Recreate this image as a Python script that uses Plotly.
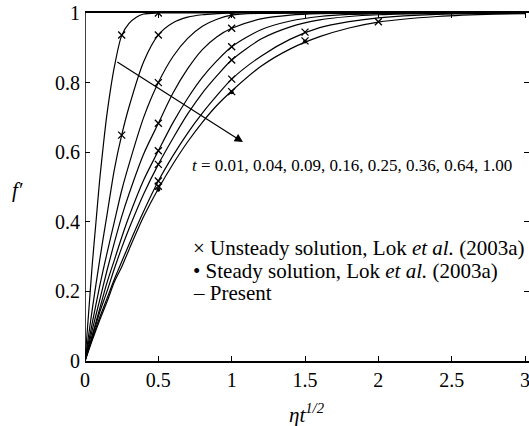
import plotly.graph_objects as go

# ---- data ----
t_labels = ["0.01", "0.04", "0.09", "0.16", "0.25", "0.36", "0.64", "1.00"]

x_c1 = [0, 0.025, 0.05, 0.075, 0.1, 0.125, 0.15, 0.2, 0.25, 0.3, 0.35, 0.4, 0.5, 1.0, 2.0, 3.0]
y_c1 = [0, 0.14, 0.28, 0.40, 0.52, 0.62, 0.71, 0.845, 0.935, 0.97, 0.988, 0.997, 1.0, 1.0, 1.0, 1.0]

x_c2 = [0, 0.05, 0.1, 0.15, 0.2, 0.25, 0.3, 0.4, 0.5, 0.6, 0.7, 0.8, 0.9, 1.0, 2.0, 3.0]
y_c2 = [0, 0.15, 0.29, 0.42, 0.55, 0.649, 0.73, 0.86, 0.937, 0.972, 0.988, 0.995, 0.998, 1.0, 1.0, 1.0]

x_c3 = [0, 0.05, 0.1, 0.15, 0.2, 0.25, 0.3, 0.4, 0.5, 0.6, 0.7, 0.8, 0.9, 1.0, 1.2, 1.4, 2.0, 3.0]
y_c3 = [0, 0.11, 0.215, 0.31, 0.40, 0.49, 0.565, 0.70, 0.80, 0.875, 0.927, 0.962, 0.982, 0.994, 0.999, 1.0, 1.0, 1.0]

x_c4 = [0, 0.05, 0.1, 0.15, 0.2, 0.25, 0.3, 0.4, 0.5, 0.6, 0.7, 0.8, 0.9, 1.0, 1.2, 1.4, 1.6, 2.0, 3.0]
y_c4 = [0, 0.09, 0.175, 0.26, 0.34, 0.415, 0.48, 0.595, 0.683, 0.77, 0.84, 0.895, 0.932, 0.956, 0.983, 0.994, 0.998, 1.0, 1.0]

x_c5 = [0, 0.05, 0.1, 0.15, 0.2, 0.25, 0.3, 0.4, 0.5, 0.6, 0.7, 0.8, 0.9, 1.0, 1.2, 1.4, 1.6, 1.8, 2.0, 2.4, 3.0]
y_c5 = [0, 0.075, 0.15, 0.225, 0.29, 0.355, 0.415, 0.52, 0.604, 0.685, 0.755, 0.815, 0.863, 0.903, 0.952, 0.977, 0.99, 0.996, 0.998, 1.0, 1.0]

x_c6 = [0, 0.05, 0.1, 0.15, 0.2, 0.25, 0.3, 0.4, 0.5, 0.6, 0.7, 0.8, 0.9, 1.0, 1.2, 1.4, 1.6, 1.8, 2.0, 2.4, 3.0]
y_c6 = [0, 0.07, 0.14, 0.20, 0.265, 0.325, 0.38, 0.48, 0.565, 0.64, 0.71, 0.77, 0.82, 0.865, 0.925, 0.96, 0.98, 0.99, 0.995, 0.999, 1.0]

x_c7 = [0, 0.05, 0.1, 0.15, 0.2, 0.25, 0.3, 0.4, 0.5, 0.6, 0.7, 0.8, 0.9, 1.0, 1.2, 1.4, 1.6, 1.8, 2.0, 2.4, 2.8, 3.0]
y_c7 = [0, 0.065, 0.125, 0.18, 0.235, 0.285, 0.335, 0.43, 0.517, 0.59, 0.655, 0.712, 0.763, 0.81, 0.876, 0.925, 0.958, 0.975, 0.986, 0.996, 0.999, 1.0]

x_c8 = [0, 0.05, 0.1, 0.15, 0.2, 0.25, 0.3, 0.4, 0.5, 0.6, 0.7, 0.8, 0.9, 1.0, 1.2, 1.4, 1.6, 1.8, 2.0, 2.4, 2.8, 3.0]
y_c8 = [0, 0.06, 0.117, 0.17, 0.227, 0.27, 0.32, 0.415, 0.495, 0.566, 0.63, 0.686, 0.735, 0.776, 0.847, 0.897, 0.932, 0.957, 0.974, 0.99, 0.997, 0.998]

curves_x = [x_c1, x_c2, x_c3, x_c4, x_c5, x_c6, x_c7, x_c8]
curves_y = [y_c1, y_c2, y_c3, y_c4, y_c5, y_c6, y_c7, y_c8]

unsteady_x = [0.25, 0.25, 0.5, 0.5, 0.5, 0.5, 0.5, 0.5, 0.5, 0.5, 1, 1, 1, 1, 1, 1, 1.5, 1.5, 2]
unsteady_y = [0.937, 0.649, 1.0, 0.937, 0.80, 0.683, 0.604, 0.565, 0.517, 0.502,
              0.994, 0.956, 0.903, 0.865, 0.81, 0.774, 0.945, 0.92, 0.975]

steady_x = [0.5, 1.0, 1.5]
steady_y = [0.492, 0.772, 0.918]

x_ticks = [0, 0.5, 1, 1.5, 2, 2.5, 3]
x_tick_text = ["0", "0.5", "1", "1.5", "2", "2.5", "3"]
y_ticks = [0, 0.2, 0.4, 0.6, 0.8, 1]
y_tick_text = ["0", "0.2", "0.4", "0.6", "0.8", "1"]

SERIF = "Liberation Serif, Times New Roman, serif"

fig = go.Figure()
for cx, cy in zip(curves_x, curves_y):
    fig.add_trace(go.Scatter(x=cx, y=cy, mode="lines",
                             line=dict(color="black", width=1.2, shape="spline", smoothing=0.8),
                             showlegend=False, hoverinfo="skip"))

fig.add_trace(go.Scatter(x=unsteady_x, y=unsteady_y, mode="markers",
                         marker=dict(symbol="x-thin", size=7, line=dict(color="black", width=1.3)),
                         showlegend=False))
fig.add_trace(go.Scatter(x=steady_x, y=steady_y, mode="markers",
                         marker=dict(symbol="circle", size=4, color="black"),
                         showlegend=False))

fig.update_layout(
    width=529, height=426,
    margin=dict(l=85, r=0, t=13, b=65),
    paper_bgcolor="white", plot_bgcolor="white",
    font=dict(family=SERIF, color="black", size=20),
    showlegend=False,
    xaxis=dict(range=[0, 3.027], tickvals=x_ticks, ticktext=x_tick_text,
               showgrid=False, zeroline=False, showline=True, linecolor="black",
               linewidth=1.5, mirror="ticks", ticks="inside", ticklen=5,
               tickcolor="black", tickfont=dict(size=20, family=SERIF),
               ticklabeloverflow="allow"),
    yaxis=dict(range=[0, 1], tickvals=y_ticks, ticktext=y_tick_text,
               showgrid=False, zeroline=False, showline=False,
               mirror="ticks", ticks="inside", ticklen=5,
               tickcolor="black", tickfont=dict(size=20, family=SERIF),
               ticklabelstandoff=4),
)

fig.add_shape(type="line", xref="x", yref="paper", x0=0, x1=0, y0=0, y1=1,
              line=dict(color="black", width=1.5))

# arrow
fig.add_annotation(x=1.077, y=0.629, ax=0.21, ay=0.862, xref="x", yref="y",
                   axref="x", ayref="y", showarrow=True, arrowhead=2,
                   arrowsize=1.4, arrowwidth=1.2, arrowcolor="black", text="")

fig.add_annotation(x=0.716, y=0.563, xref="x", yref="y", xanchor="left", yanchor="middle",
                   showarrow=False,
                   text="<i>t</i> = " + ", ".join(t_labels),
                   font=dict(size=17, family=SERIF))

legend_lines = ["\u00d7 Unsteady solution, Lok <i>et al.</i> (2003a)",
                "\u2022 Steady solution, Lok <i>et al.</i> (2003a)",
                "\u2013 Present"]
legend_y = [0.325, 0.26, 0.195]
for txt, ly in zip(legend_lines, legend_y):
    fig.add_annotation(x=0.72, y=ly, xref="x", yref="y", xanchor="left", yanchor="middle",
                       showarrow=False, text=txt, font=dict(size=21, family=SERIF))

# axis titles (paper coordinates, outside the plot area)
fig.add_annotation(x=-0.151, y=0.49, xref="paper", yref="paper", showarrow=False,
                   xanchor="center", yanchor="middle",
                   text="<i>f\u2032</i>", font=dict(size=21, family=SERIF))
fig.add_annotation(x=0.5, y=-0.152, xref="paper", yref="paper", showarrow=False,
                   xanchor="center", yanchor="middle",
                   text="<i>\u03b7t</i><sup><i>1/2</i></sup>", font=dict(size=21, family=SERIF))

fig.write_html("out.html")
